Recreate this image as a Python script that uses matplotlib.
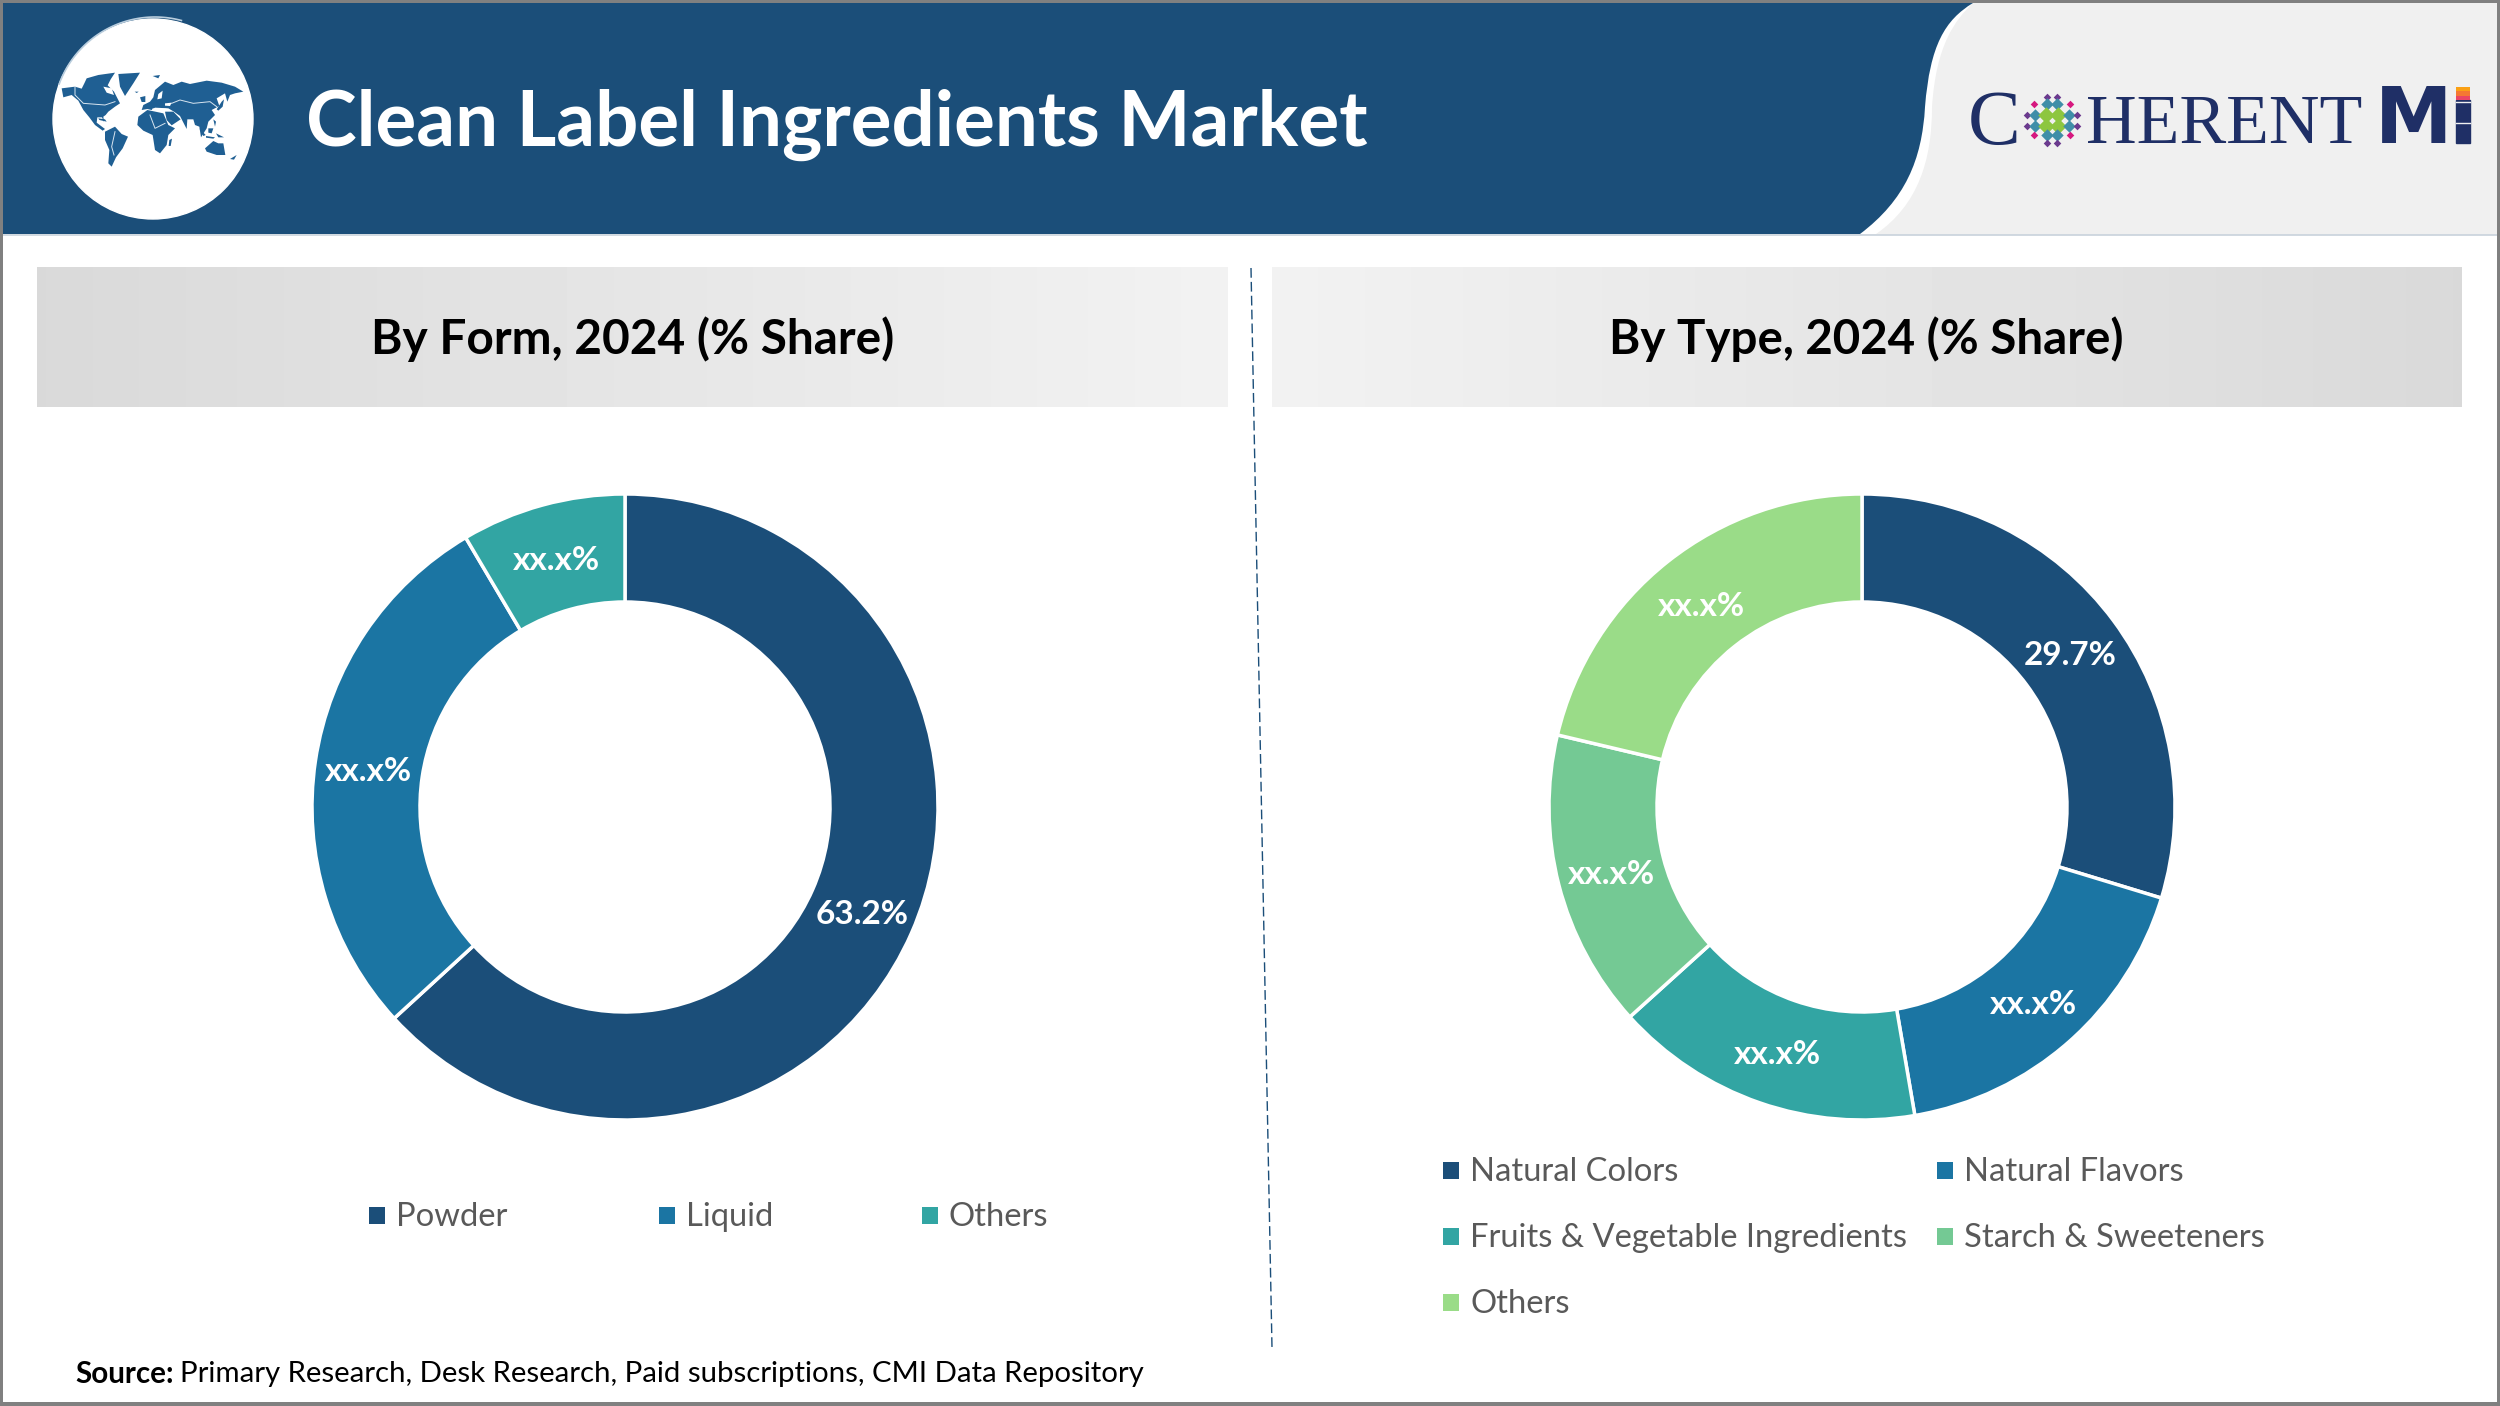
"""
Clean Label Ingredients Market - share donuts
"""
import numpy as np
import matplotlib
matplotlib.use("Agg")
import matplotlib.pyplot as plt
from matplotlib.patches import Circle, PathPatch, Polygon, Rectangle
from matplotlib.path import Path

# ── Data ───────────────────────────────────────────────────────
form_labels = ["Powder", "Liquid", "Others"]
form_values = [63.2, 28.3, 8.5]
form_texts = ["63.2%", "xx.x%", "xx.x%"]

type_labels = ["Natural Colors", "Natural Flavors", "Fruits & Vegetable Ingredients",
               "Starch & Sweeteners", "Others"]
type_values = [29.7, 17.6, 16.0, 15.4, 21.3]
type_texts = ["29.7%", "xx.x%", "xx.x%", "xx.x%", "xx.x%"]

# ── Style ──────────────────────────────────────────────────────
W, H = 2500, 1406
NAVY = "#1b4e79"
COLORS = ["#1b4e79", "#1b75a3", "#32a5a3", "#74c994", "#9adc88"]
LOGO = "#1f2f66"
FONT = "Lato"
R_OUT = 313
R_IN = 205

plt.rcParams["font.family"] = FONT
fig = plt.figure(figsize=(W / 100, H / 100), dpi=100, facecolor="white")
bg = fig.add_axes([0, 0, 1, 1])
bg.set_axis_off()


def reset_limits():
    bg.set_xlim(0, W)
    bg.set_ylim(H, 0)


def draw_band(x0, x1, y0, y1, left, right):
    grad = np.linspace(left, right, 256).reshape(1, -1)
    bg.imshow(grad, extent=(x0, x1, y1, y0), cmap="gray", vmin=0, vmax=255,
              aspect="auto", zorder=1)


def draw_header():
    bg.add_patch(Rectangle((1800, 3), 700, 231, color="#f0f0f0", zorder=1))
    # white strip that follows the curve
    strip = Path([(1973, 3), (1955, 20), (1936, 45), (1932, 107), (1932, 160),
                  (1918, 205), (1876, 234), (1800, 234), (1800, 3), (1973, 3)],
                 [Path.MOVETO, Path.CURVE4, Path.CURVE4, Path.CURVE4, Path.CURVE4,
                  Path.CURVE4, Path.CURVE4, Path.LINETO, Path.LINETO, Path.CLOSEPOLY])
    bg.add_patch(PathPatch(strip, fc="white", ec="none", zorder=2))
    curve = Path([(0, 3), (1973, 3), (1945, 20), (1930, 45), (1925, 107), (1922, 160),
                  (1905, 200), (1860, 234), (0, 234), (0, 3)],
                 [Path.MOVETO, Path.LINETO, Path.CURVE4, Path.CURVE4, Path.CURVE4,
                  Path.CURVE4, Path.CURVE4, Path.CURVE4, Path.LINETO, Path.CLOSEPOLY])
    bg.add_patch(PathPatch(curve, fc=NAVY, ec="none", zorder=3))
    bg.plot([3, 2497], [234.5, 234.5], color="#c9d3dc", lw=1.2, zorder=2.5)

    bg.text(306, 125, "Clean Label Ingredients Market", color="white", fontsize=55,
            fontweight="bold", va="center", ha="left", zorder=5)


def draw_globe():
    bg.add_patch(Circle((153, 119), 100, color="white", zorder=4))
    t = np.linspace(np.radians(200), np.radians(285), 60)
    bg.plot(155 + 102 * np.cos(t), 119 + 102 * np.sin(t), color="#b9cddd", lw=1.2, zorder=4)

    # continents, in 3x crop coordinates of the badge
    land = [
        # north america
        [(65, 85), (105, 80), (125, 86), (133, 70), (140, 55), (175, 45), (225, 38), (212, 58),
         (203, 76), (222, 95), (240, 130), (225, 140), (205, 155), (197, 165), (190, 170),
         (192, 186), (186, 172), (172, 172), (170, 188), (195, 207), (188, 212), (165, 195),
         (148, 172), (130, 150), (115, 122), (95, 105), (70, 112)],
        # greenland
        [(235, 42), (300, 38), (280, 70), (255, 108), (240, 80)],
        # south america
        [(195, 215), (225, 200), (245, 222), (264, 230), (248, 265), (228, 292), (215, 320),
         (205, 310), (208, 270), (195, 240)],
        # africa
        [(295, 170), (322, 150), (370, 160), (385, 195), (405, 205), (385, 225), (380, 255),
         (360, 280), (345, 270), (338, 225), (310, 212), (292, 195)],
        # eurasia
        [(305, 150), (310, 135), (330, 125), (340, 112), (345, 90), (375, 65), (400, 75),
         (425, 65), (450, 72), (500, 62), (545, 68), (585, 80), (610, 95), (585, 100),
         (570, 105), (562, 125), (555, 100), (530, 115), (538, 138), (515, 150), (525, 165),
         (505, 185), (500, 205), (483, 232), (478, 200), (465, 195), (460, 178), (442, 178),
         (440, 207), (420, 168), (402, 155), (385, 145), (345, 143), (335, 150), (322, 147)],
        # arabia
        [(375, 155), (400, 155), (422, 178), (395, 196), (380, 180)],
        # australia
        [(495, 265), (520, 243), (535, 250), (550, 250), (556, 285), (530, 285), (500, 275)],
        # islands
        [(388, 240), (396, 236), (392, 258), (386, 258)],
        [(545, 125), (552, 118), (548, 140), (535, 152), (530, 148)],
        [(478, 205), (497, 225), (490, 228)],
        [(498, 228), (525, 232), (520, 236), (498, 233)],
        [(505, 205), (520, 205), (515, 220), (505, 218)],
        [(528, 220), (552, 232), (535, 232)],
        [(520, 178), (528, 185), (525, 200)],
        [(338, 48), (360, 45), (355, 55)],
        [(300, 112), (316, 108), (316, 126), (305, 126)],
        [(284, 95), (296, 95), (290, 99)],
        [(570, 297), (590, 285), (582, 299)],
        [(175, 175), (195, 178), (200, 185), (178, 180)],
    ]
    for poly in land:
        pts = [(40 + x / 3, 60 + y / 3) for x, y in poly]
        bg.add_patch(Polygon(pts, closed=True, fc="#1f5f93", ec="none", zorder=5))
    # hudson bay and the baltic / black sea
    for poly in [[(190, 80), (215, 85), (222, 105), (200, 98)],
                 [(355, 102), (368, 92), (365, 115), (352, 118)],
                 [(375, 130), (395, 128), (390, 138), (375, 137)],
                 [(338, 145), (380, 146), (375, 155), (335, 152)]]:
        pts = [(40 + x / 3, 60 + y / 3) for x, y in poly]
        bg.add_patch(Polygon(pts, closed=True, fc="white", ec="none", zorder=5.5))
    # a few of the border lines
    for line in [[(105, 80), (105, 105), (130, 130), (195, 135), (225, 125)],
                 [(395, 130), (420, 120), (460, 130), (510, 125), (530, 140)],
                 [(330, 165), (345, 205), (375, 190)],
                 [(225, 215), (215, 260), (222, 285)]]:
        xs = [40 + x / 3 for x, _ in line]
        ys = [60 + y / 3 for _, y in line]
        bg.plot(xs, ys, color="#d8e5f0", lw=0.7, zorder=6)


def draw_logo():
    bg.text(1968, 144, "C", family="Liberation Serif", color=LOGO, fontsize=57,
            ha="left", va="baseline", zorder=5)
    bg.text(2086, 143, "HERENT", family="Liberation Serif", color=LOGO, fontsize=50.5,
            ha="left", va="baseline", zorder=5)
    bg.text(2375, 143, "M", family="DejaVu Sans", fontweight="bold", color=LOGO,
            fontsize=56, ha="left", va="baseline", zorder=5)

    # i block
    bg.add_patch(Rectangle((2456, 100), 14, 43, color=LOGO, zorder=5))
    grad = np.array([[[250, 160, 20]], [[245, 120, 50]], [[235, 70, 100]]], dtype=np.uint8)
    bg.imshow(grad, extent=(2456, 2470, 100, 87), aspect="auto", zorder=5)
    for y in (102, 123):
        bg.plot([2456, 2470], [y, y], color="#f0f0f0", lw=1, zorder=6)

    # dotted globe
    cx, cy = 2052, 120
    rows = [
        (-23, [(-5, "#6b3a8e"), (5, "#6b3a8e")]),
        (-16, [(-18, "#d6187f"), (-5, "#3f8ea8"), (5, "#3f8ea8"), (18, "#d6187f")]),
        (-5, [(-25, "#6b3a8e"), (-17, "#3f8ea8"), (-6, "#8dc63f"), (6, "#8dc63f"),
              (17, "#3f8ea8"), (25, "#6b3a8e")]),
        (6, [(-25, "#6b3a8e"), (-17, "#3f8ea8"), (-6, "#8dc63f"), (6, "#8dc63f"),
             (17, "#3f8ea8"), (25, "#6b3a8e")]),
        (15, [(-18, "#d6187f"), (-5, "#3f8ea8"), (5, "#3f8ea8"), (18, "#d6187f")]),
        (23, [(-5, "#6b3a8e"), (5, "#6b3a8e")]),
    ]
    for dy, dots in rows:
        for dx, col in dots:
            size = 70 if col == "#8dc63f" else 40 if col == "#3f8ea8" else 15
            bg.scatter(cx + dx, cy + dy, s=size, marker="D", color=col, lw=0, zorder=5)


def draw_donut(values, texts, cx, cy):
    pad = 1.05
    size = R_OUT * pad
    ax = fig.add_axes([(cx - size) / W, 1 - (cy + size) / H, 2 * size / W, 2 * size / H])
    labels = iter(texts)
    _, _, autotexts = ax.pie(values, colors=COLORS, startangle=90, counterclock=False, radius=1,
                             autopct=lambda p: next(labels),
                             pctdistance=(R_OUT + R_IN) / 2 / R_OUT,
                             wedgeprops=dict(width=1 - R_IN / R_OUT, edgecolor="white", linewidth=2.5),
                             textprops=dict(color="white", fontweight="bold", fontsize=24))
    for t in autotexts:
        x, y = t.get_position()
        t.set_position((x, y - 3 / R_OUT))
    ax.set_xlim(-pad, pad)
    ax.set_ylim(-pad, pad)


def draw_legend(labels, positions):
    for i, (label, (x, y)) in enumerate(zip(labels, positions)):
        bg.add_patch(Rectangle((x, y - 8.5), 16, 17, color=COLORS[i], lw=0, zorder=3))
        bg.text(x + 27, y + 2, label, color="#595959", fontsize=23.6, ha="left",
                va="center", zorder=3)


# ── Layout ─────────────────────────────────────────────────────
draw_header()
draw_globe()
draw_logo()

draw_band(37, 1228, 267, 407, 217, 242)
draw_band(1272, 2462, 267, 407, 242, 217)
bg.text(633, 339, "By Form, 2024 (% Share)", color="black", fontsize=34.4, fontweight="bold",
        ha="center", va="center", zorder=3)
bg.text(1866, 339, "By Type, 2024 (% Share)", color="black", fontsize=34.2, fontweight="bold",
        ha="center", va="center", zorder=3)

# separator leans slightly to the right
bg.plot([1251, 1272], [268, 1348], color=NAVY, lw=1.0, dashes=(7, 3), zorder=2)

draw_donut(form_values, form_texts, 625, 807)
draw_donut(type_values, type_texts, 1862, 807)

draw_legend(form_labels, [(369, 1215), (659, 1215), (922, 1215)])
draw_legend(type_labels, [(1443, 1170), (1937, 1170), (1443, 1236), (1937, 1236), (1443, 1302)])

bg.text(75, 1374, "Source:", color="black", fontsize=21.3, fontweight="bold", ha="left", va="center")
bg.text(180, 1374, "Primary Research, Desk Research, Paid subscriptions, CMI Data Repository",
        color="black", fontsize=21.2, ha="left", va="center")

# outer frame
for rect in [(0, 0, W, 3), (0, H - 4, W, 4), (0, 0, 3, H), (W - 3, 0, 3, H)]:
    bg.add_patch(Rectangle(rect[:2], rect[2], rect[3], color="#808080", lw=0, zorder=8))

reset_limits()
fig.savefig("out.png", dpi=100)
